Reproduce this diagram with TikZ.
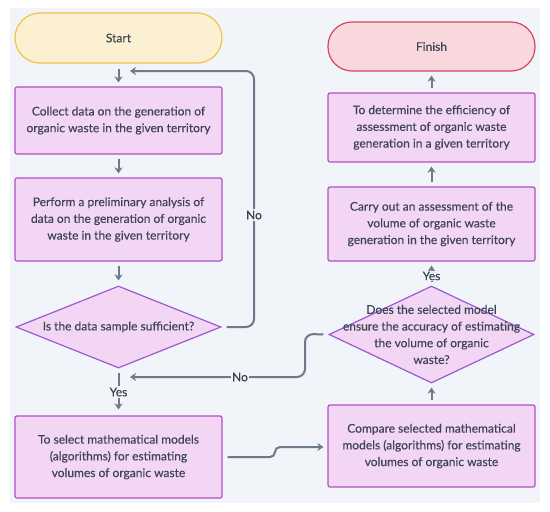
\documentclass[tikz,border=0pt]{standalone}
\usepackage{fontspec}
\setmainfont{Lato}[BoldFont=Lato, BoldFeatures={FakeBold=0.25}]
\usetikzlibrary{shapes.geometric,arrows.meta}
\definecolor{bg}{HTML}{F1F4F8}
\definecolor{boxfill}{HTML}{F2D6F4}
\definecolor{boxline}{HTML}{B24FC4}
\definecolor{diafill}{HTML}{F2D6F4}
\definecolor{dialine}{HTML}{9A5AD2}
\definecolor{startfill}{HTML}{FCF0D2}
\definecolor{startline}{HTML}{F4C24A}
\definecolor{endfill}{HTML}{F8D8DC}
\definecolor{endline}{HTML}{D6475F}
\definecolor{arr}{HTML}{6C7A89}
\definecolor{txt}{HTML}{3D4452}
\tikzset{
  base/.style={draw, line width=1.2pt, inner sep=0pt, text=txt, font=\bfseries\fontsize{12}{16.7}\selectfont, align=center},
  procbox/.style={base, rectangle, fill=boxfill, draw=boxline, minimum width=207pt, rounded corners=2pt},
  termstart/.style={base, rectangle, fill=startfill, draw=startline, minimum width=207pt, rounded corners=25pt},
  termend/.style={base, rectangle, fill=endfill, draw=endline, minimum width=207pt, rounded corners=24pt},
  dia/.style={base, diamond, fill=diafill, draw=dialine, inner sep=0pt},
  dtext/.style={text=txt, font=\bfseries\fontsize{12}{16.7}\selectfont, align=center, inner sep=0pt},
  conn/.style={draw=arr, line width=2pt, -{Stealth[length=6pt,width=8pt]}},
  connl/.style={draw=arr, line width=2pt, rounded corners=8pt},
  lbl/.style={fill=bg, text=txt, font=\bfseries\fontsize{12}{13}\selectfont, inner sep=1.5pt},
}
\begin{document}
\begin{tikzpicture}[x=1pt,y=-1pt]
\useasboundingbox (0,0) rectangle (550,512);
\fill[white] (0,0) rectangle (550,512);
\fill[bg] (10,8) rectangle (540,503);

% left column
\node[termstart, minimum height=50pt] (start) at (118.5,38) {Start};
\node[procbox, minimum height=67pt] (collect) at (118.5,120.5) {Collect data on the generation of\\organic waste in the given territory};
\node[procbox, minimum height=83pt] (perform) at (118.5,219.5) {Perform a preliminary analysis of\\data on the generation of organic\\waste in the given territory};
\node[dia, minimum width=205pt, minimum height=82pt] (d1) at (118.5,327) {};
\node[dtext] (d1t) at (d1) {Is the data sample sufficient?};
\node[procbox, minimum height=82pt] (select) at (118.5,457) {To select mathematical models\\(algorithms) for estimating\\volumes of organic waste};

% right column
\node[termend, minimum height=49pt] (finish) at (431.5,46.5) {Finish};
\node[procbox, minimum height=69pt] (eff) at (431.5,127.5) {To determine the efficiency of\\assessment of organic waste\\generation in a given territory};
\node[procbox, minimum height=74pt] (carry) at (431.5,224) {Carry out an assessment of the\\volume of organic waste\\generation in the given territory};
\node[dia, minimum width=205pt, minimum height=97pt] (d2) at (431.5,334.5) {};
\node[dtext] (d2t) at (d2) {Does the selected model\\ensure the accuracy of estimating\\the volume of organic\\waste?};
\node[procbox, minimum height=82pt] (compare) at (431.5,446) {Compare selected mathematical\\models (algorithms) for estimating\\volumes of organic waste};

% helper coordinates
\coordinate (loopA) at (254,327);
\coordinate (loopB) at (254,71);
\coordinate (loopEnd) at (130,71);
\coordinate (noB) at (305,334);
\coordinate (noC) at (305,377);
\coordinate (noEnd) at (130,377);
\coordinate (selA) at (275,457);
\coordinate (selB) at (275,447);
\coordinate (cmpIn) at ([xshift=-4pt]compare.west |- selB);

% straight arrows
\draw[conn, shorten <=5pt, shorten >=4pt] (start) -- (collect);
\draw[conn, shorten <=4pt, shorten >=4pt] (collect) -- (perform);
\draw[conn, shorten <=4pt, shorten >=5pt] (perform) -- (d1.north);
\draw[conn, shorten <=4pt, shorten >=6pt] (d1.south) -- node[lbl, pos=0.5] (yes1) {Yes} (select);
\draw[conn, shorten <=4pt, shorten >=4pt] (compare) -- (d2.south);
\draw[conn, shorten <=3pt, shorten >=4pt] (d2.north) -- node[lbl, pos=0.4, inner sep=0.5pt] (yes2) {Yes} (carry);
\draw[conn, shorten <=4pt, shorten >=4pt] (carry) -- (eff);
\draw[conn, shorten <=4pt, shorten >=4pt] (eff) -- (finish);

% loop back "No"
\draw[connl, -{Stealth[length=6pt,width=8pt]}, shorten <=5pt] (d1.east) -- (loopA) -- (loopB) -- (loopEnd);
\node[lbl] (no1) at (254,215) {No};

% second "No"
\draw[connl, -{Stealth[length=6pt,width=8pt]}, shorten <=5pt] (d2.west) -- (noB) -- (noC) -- (noEnd);
\node[lbl] (no2) at (240,377) {No};

% select -> compare
\draw[connl, rounded corners=5pt, -{Stealth[length=6pt,width=8pt]}, shorten <=5pt] (select.east) -- (selA) -- (selB) -- (cmpIn);
\end{tikzpicture}
\end{document}
